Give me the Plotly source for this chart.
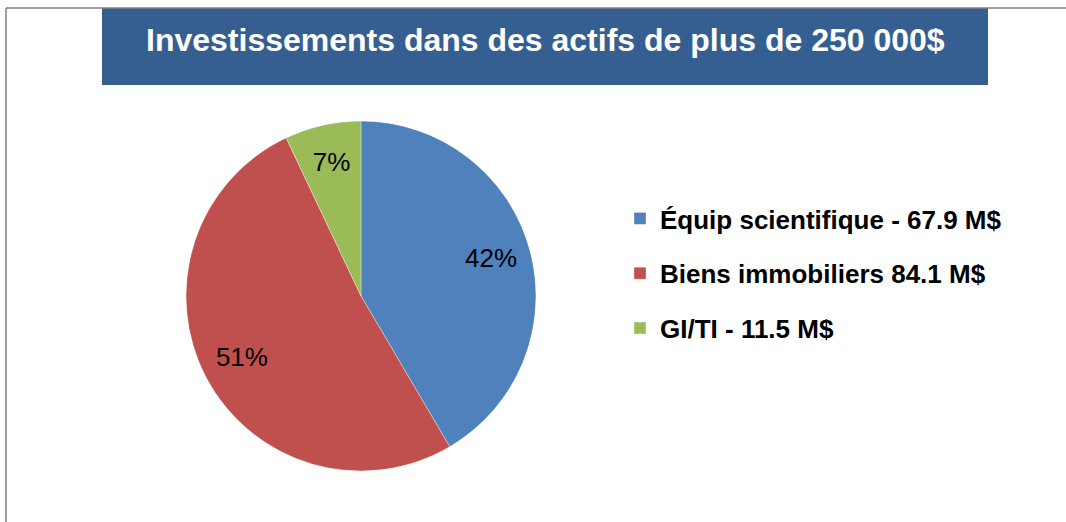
import plotly.graph_objects as go

# ---- data ----
categories = ["Équip scientifique - 67.9 M$", "Biens immobiliers 84.1 M$", "GI/TI - 11.5 M$"]
values = [67.9, 84.1, 11.5]
colors = ["#4F81BD", "#C0504D", "#9BBB59"]
title_text = "Investissements dans des actifs de plus de 250 000$"

W, H = 1066, 522
LABEL_R = 0.77  # relative radius of the percentage labels

def px_x(x):
    return x / W

def px_y(y):
    return (H - y) / H

pie_domain = dict(x=[px_x(186), px_x(536)], y=[px_y(471), px_y(121)])

total = sum(values)
spans = [v / total * 360 for v in values]
mid_angles = []
pct_text = []
acc = 0.0
for v, s in zip(values, spans):
    mid_angles.append(acc + s / 2)
    pct_text.append(f"{round(v / total * 100)}%")
    acc += s

fig = go.Figure()
for cat, v, s, m, col in zip(categories, values, spans, mid_angles, colors):
    fig.add_trace(go.Barpolar(
        r=[1], theta=[m], width=[s], base=0,
        name=cat, legendgroup=cat,
        marker=dict(color=col, line=dict(color="rgba(255,255,255,0.6)", width=0.6)),
        hovertemplate=f"{v} M$<extra></extra>",
    ))

fig.add_trace(go.Scatterpolar(
    r=[LABEL_R] * len(values),
    theta=mid_angles,
    text=pct_text,
    mode="text",
    textposition="middle center",
    textfont=dict(family="Liberation Sans, Arial, sans-serif", size=26, color="#000000"),
    hoverinfo="skip",
    showlegend=False,
))

fig.update_layout(
    width=W, height=H,
    margin=dict(l=0, r=0, t=0, b=0),
    paper_bgcolor="white",
    plot_bgcolor="white",
    showlegend=True,
    polar=dict(
        domain=pie_domain,
        bgcolor="rgba(0,0,0,0)",
        hole=0,
        bargap=0,
        radialaxis=dict(visible=False, range=[0, 1]),
        angularaxis=dict(visible=False, rotation=90, direction="clockwise"),
    ),
    legend=dict(
        x=px_x(620), y=px_y(195), xanchor="left", yanchor="top",
        traceorder="grouped", tracegroupgap=18,
        font=dict(family="Liberation Sans, Arial, sans-serif", size=26, color="#000000", weight="bold"),
        bgcolor="rgba(0,0,0,0)",
        borderwidth=0,
    ),
    shapes=[
        dict(type="rect", xref="paper", yref="paper",
             x0=px_x(102), x1=px_x(988), y0=px_y(85), y1=px_y(8),
             fillcolor="#365F91", line=dict(width=0), layer="below"),
        dict(type="line", xref="paper", yref="paper",
             x0=px_x(6), x1=px_x(1066), y0=px_y(8), y1=px_y(8),
             line=dict(color="#808080", width=1.5)),
        dict(type="line", xref="paper", yref="paper",
             x0=px_x(6), x1=px_x(6), y0=px_y(8), y1=0,
             line=dict(color="#808080", width=1.5)),
    ],
    annotations=[
        dict(text="<b>" + title_text + "</b>", xref="paper", yref="paper",
             x=px_x(545), y=px_y(40), xanchor="center", yanchor="middle",
             showarrow=False,
             font=dict(family="Liberation Sans, Arial, sans-serif", size=32, color="white")),
    ],
)

fig.write_html(
    "out.html",
    config={"displayModeBar": False},
    post_script="document.body.style.margin='0';document.body.style.padding='0';",
)
